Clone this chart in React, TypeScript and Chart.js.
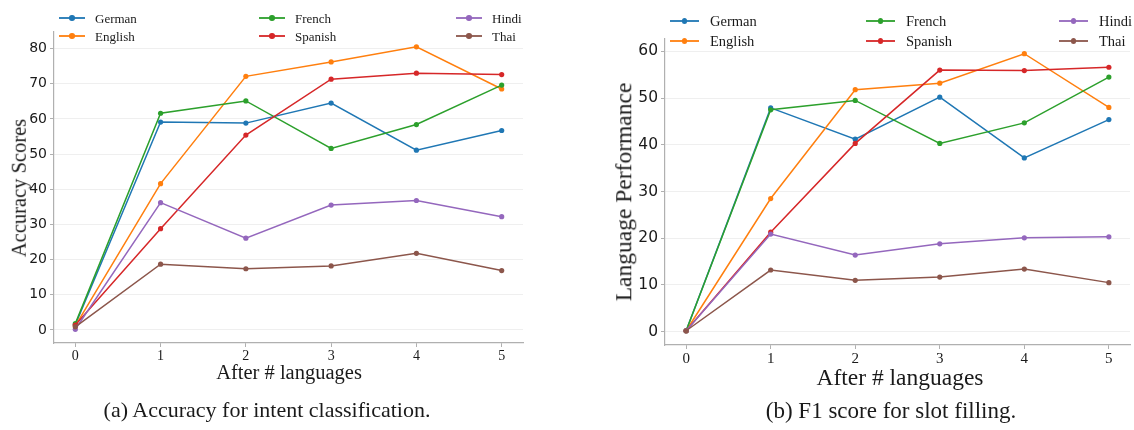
import React, { useEffect, useRef } from 'react';
import { Chart, registerables } from 'chart.js';

Chart.register(...registerables);

// ---------- data ----------
const steps = [0, 1, 2, 3, 4, 5];
const languages = ['German', 'English', 'French', 'Spanish', 'Hindi', 'Thai'];

const accGerman = [1.5, 59.1, 58.8, 64.5, 51.1, 56.7];
const accEnglish = [1.2, 41.6, 72.1, 76.2, 80.5, 68.5];
const accFrench = [1.8, 61.6, 65.1, 51.6, 58.4, 69.6];
const accSpanish = [1.4, 28.8, 55.4, 71.3, 73.0, 72.6];
const accHindi = [0.2, 36.2, 26.1, 35.5, 36.8, 32.2];
const accThai = [0.9, 18.7, 17.4, 18.2, 21.8, 16.9];

const f1German = [0.2, 47.9, 41.2, 50.2, 37.2, 45.4];
const f1English = [0.2, 28.5, 51.8, 53.2, 59.5, 48.0];
const f1French = [0.2, 47.5, 49.5, 40.3, 44.7, 54.5];
const f1Spanish = [0.2, 21.3, 40.3, 56.0, 55.9, 56.6];
const f1Hindi = [0.2, 20.9, 16.4, 18.8, 20.1, 20.3];
const f1Thai = [0.2, 13.2, 11.0, 11.7, 13.4, 10.5];

const accSeries = [accGerman, accEnglish, accFrench, accSpanish, accHindi, accThai];
const f1Series = [f1German, f1English, f1French, f1Spanish, f1Hindi, f1Thai];

const accYTicks = [0, 10, 20, 30, 40, 50, 60, 70, 80];
const f1YTicks = [0, 10, 20, 30, 40, 50, 60];
const xTicks = [0, 1, 2, 3, 4, 5];

const accYTitle = 'Accuracy Scores';
const f1YTitle = 'Language Performance';
const xTitle = 'After # languages';
const accCaption = '(a) Accuracy for intent classification.';
const f1Caption = '(b) F1 score for slot filling.';

// legend columns (matplotlib ncol=3 column-major order)
const legendColumns = [[0, 1], [2, 3], [4, 5]];

// ---------- styles ----------
const COLORS = ['#1f77b4', '#ff7f0e', '#2ca02c', '#d62728', '#9467bd', '#8c564b'];
const SERIF = '"Liberation Serif", "Times New Roman", serif';
const SANS = '"DejaVu Sans", sans-serif';
const TEXT = '#1a1a1a';

function buildDatasets(series: number[][]) {
  return series.map((vals, i) => ({
    label: languages[i],
    data: vals.map((v, j) => ({ x: steps[j], y: v })),
    borderColor: COLORS[i],
    backgroundColor: COLORS[i],
    pointBackgroundColor: COLORS[i],
    pointBorderColor: COLORS[i],
    borderWidth: 1.5,
    pointRadius: 2.6,
    pointBorderWidth: 0,
    tension: 0,
    order: series.length - 1 - i,
  }));
}

type PanelProps = {
  series: number[][];
  yTicks: number[];
  yMin: number;
  yMax: number;
  left: number;
  width: number;
  height: number;
  yAxisWidth: number;
  padTop: number;
  padRight: number;
  xAxisHeight: number;
  yTickSize: number;
  xTickSize: number;
};

function Panel(p: PanelProps) {
  const ref = useRef<HTMLCanvasElement | null>(null);
  useEffect(() => {
    if (!ref.current) return;
    const chart = new Chart(ref.current, {
      type: 'line',
      data: { datasets: buildDatasets(p.series) as any },
      options: {
        responsive: false,
        animation: false,
        events: [],
        layout: { padding: { top: p.padTop, right: p.padRight, left: 0, bottom: 0 } },
        plugins: { legend: { display: false }, tooltip: { enabled: false }, title: { display: false } },
        scales: {
          x: {
            type: 'linear',
            min: -0.25,
            max: 5.25,
            afterBuildTicks: (scale: any) => {
              scale.ticks = xTicks.map((v) => ({ value: v }));
            },
            afterFit: (scale: any) => {
              scale.height = p.xAxisHeight;
            },
            grid: { drawOnChartArea: false, drawTicks: true, tickLength: 4, tickColor: '#b0b0b0' },
            border: { color: '#b0b0b0', width: 1.2 },
            ticks: {
              padding: 1,
              color: TEXT,
              font: { family: SERIF, size: p.xTickSize },
              maxRotation: 0,
              callback: (v: any) => String(v),
            },
          },
          y: {
            type: 'linear',
            min: p.yMin,
            max: p.yMax,
            afterBuildTicks: (scale: any) => {
              scale.ticks = p.yTicks.map((v) => ({ value: v }));
            },
            afterFit: (scale: any) => {
              scale.width = p.yAxisWidth;
            },
            grid: { color: '#efefef', lineWidth: 1, drawTicks: true, tickLength: 4, tickColor: '#b0b0b0' },
            border: { color: '#b0b0b0', width: 1.2 },
            ticks: {
              padding: 3,
              color: TEXT,
              font: { family: SANS, size: p.yTickSize },
              callback: (v: any) => String(v),
            },
          },
        },
      } as any,
    });
    return () => chart.destroy();
  }, []);
  return (
    <canvas
      ref={ref}
      width={p.width}
      height={p.height}
      style={{ position: 'absolute', left: p.left, top: 0, width: p.width, height: p.height, display: 'block' }}
    />
  );
}

type LegendProps = { xs: number[]; ys: number[]; lineLen: number; textGap: number; fontSize: number };

function Legend({ xs, ys, lineLen, textGap, fontSize }: LegendProps) {
  const items: any[] = [];
  legendColumns.forEach((col, ci) => {
    col.forEach((idx, ri) => {
      const x0 = xs[ci];
      const y0 = ys[ri];
      items.push(
        <div key={idx} style={{ position: 'absolute', left: 0, top: 0 }}>
          <div
            style={{
              position: 'absolute',
              left: x0,
              top: Math.round(y0) - 1,
              width: lineLen,
              height: 2,
              background: COLORS[idx],
              opacity: 0.9,
            }}
          />
          <div
            style={{
              position: 'absolute',
              left: x0 + lineLen / 2 - 2.8,
              top: Math.round(y0) - 2.8,
              width: 5.6,
              height: 5.6,
              borderRadius: '50%',
              background: COLORS[idx],
            }}
          />
          <div
            style={{
              position: 'absolute',
              left: x0 + lineLen + textGap,
              top: y0,
              transform: 'translateY(-50%)',
              fontFamily: SERIF,
              fontSize,
              color: TEXT,
              whiteSpace: 'nowrap',
              lineHeight: 1,
            }}
          >
            {languages[idx]}
          </div>
        </div>
      );
    });
  });
  return <>{items}</>;
}

function Label({ text, x, y, size, rotate }: { text: string; x: number; y: number; size: number; rotate?: boolean }) {
  return (
    <div
      style={{
        position: 'absolute',
        left: x,
        top: y,
        transform: `translate(-50%, -50%)${rotate ? ' rotate(-90deg)' : ''}`,
        fontFamily: SERIF,
        fontSize: size,
        color: TEXT,
        whiteSpace: 'nowrap',
        lineHeight: 1,
      }}
    >
      {text}
    </div>
  );
}

export default function App() {
  return (
    <div
      style={{
        position: 'absolute',
        left: 0,
        top: 0,
        width: 1134,
        height: 430,
        background: '#ffffff',
        overflow: 'hidden',
      }}
    >
      <Panel
        series={accSeries}
        yTicks={accYTicks}
        yMin={-3.7}
        yMax={84.7}
        left={0}
        width={560}
        height={392}
        yAxisWidth={54}
        padTop={32}
        padRight={37}
        xAxisHeight={49}
        yTickSize={14}
        xTickSize={14}
      />
      <Panel
        series={f1Series}
        yTicks={f1YTicks}
        yMin={-2.85}
        yMax={62.65}
        left={610}
        width={524}
        height={392}
        yAxisWidth={55}
        padTop={39}
        padRight={0}
        xAxisHeight={47}
        yTickSize={15.5}
        xTickSize={15}
      />
      <Legend xs={[59, 259, 456]} ys={[17.5, 35.7]} lineLen={26} textGap={10} fontSize={13} />
      <Legend xs={[670, 866, 1059]} ys={[20.7, 40.7]} lineLen={29} textGap={11} fontSize={14.5} />
      <Label text={accYTitle} x={19} y={188} size={20.5} rotate />
      <Label text={f1YTitle} x={624} y={192} size={23.5} rotate />
      <Label text={xTitle} x={289} y={372} size={20.5} />
      <Label text={xTitle} x={900} y={378} size={23.5} />
      <Label text={accCaption} x={267} y={410} size={22} />
      <Label text={f1Caption} x={891} y={410} size={23} />
    </div>
  );
}
